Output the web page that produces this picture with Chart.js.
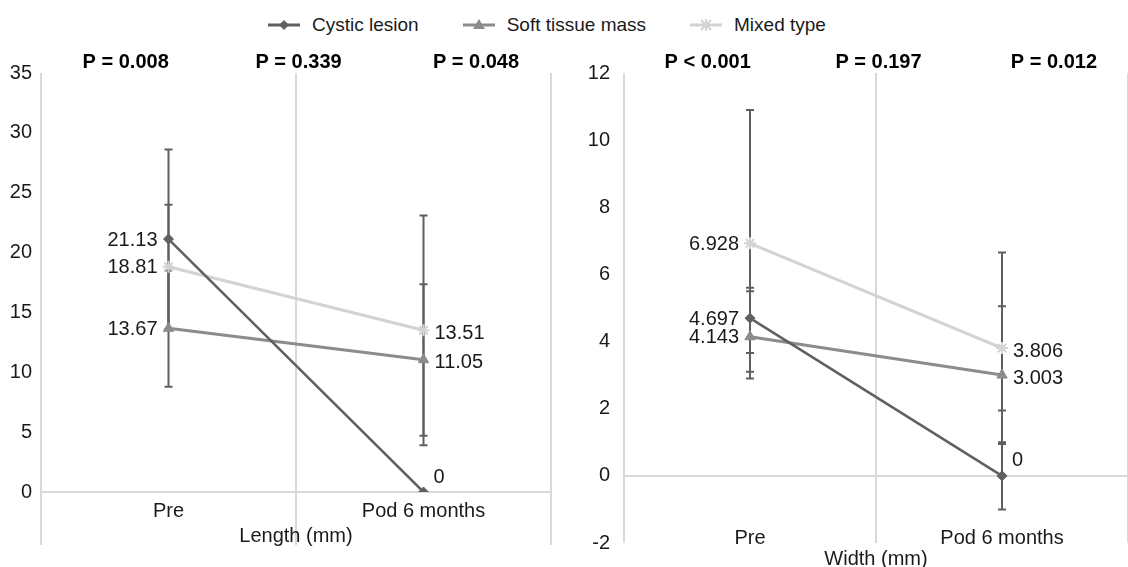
<!DOCTYPE html>
<html>
<head>
<meta charset="utf-8">
<script src="https://cdn.jsdelivr.net/npm/chart.js@4.4.1/dist/chart.umd.min.js"></script>
<style>
  body { margin: 0; width: 1128px; height: 567px; overflow: hidden; background: #fff; position: relative;
         font-family: "Liberation Sans", Arial, sans-serif; }
  #legend { position: absolute; top: 13px; left: 268px; display: flex; gap: 44px; font-size: 19px; color: #1a1a1a; }
  #legend .item { display: flex; align-items: center; gap: 12px; line-height: 24px; }
  #wrapL { position: absolute; left: 0; top: 0; }
  #wrapR { position: absolute; left: 564px; top: 0; }
</style>
</head>
<body>
<div id="legend"></div>
<div id="wrapL"><canvas id="lengthChart" width="564" height="567"></canvas></div>
<div id="wrapR"><canvas id="widthChart" width="572" height="567"></canvas></div>
<script>
// categories & series
const categories = ['Pre', 'Pod 6 months'];
const seriesNames = ['Cystic lesion', 'Soft tissue mass', 'Mixed type'];
const seriesColors = ['#606060', '#8c8c8c', '#d3d3d3'];

// Length (mm)
const lengthCystic = [21.13, 0];
const lengthSoft = [13.67, 11.05];
const lengthMixed = [18.81, 13.51];
const lengthCysticLow = [13.6, null];
const lengthCysticHigh = [28.6, null];
const lengthSoftLow = [8.8, 4.7];
const lengthSoftHigh = [18.5, 17.35];
const lengthMixedLow = [13.6, 3.9];
const lengthMixedHigh = [24.0, 23.1];
const lengthPValues = ['P = 0.008', 'P = 0.339', 'P = 0.048'];

// Width (mm)
const widthCystic = [4.697, 0];
const widthSoft = [4.143, 3.003];
const widthMixed = [6.928, 3.806];
const widthCysticLow = [3.66, -1.0];
const widthCysticHigh = [5.6, 1.0];
const widthSoftLow = [3.1, 1.95];
const widthSoftHigh = [5.5, 5.05];
const widthMixedLow = [2.9, 0.95];
const widthMixedHigh = [10.9, 6.65];
const widthPValues = ['P < 0.001', 'P = 0.197', 'P = 0.012'];

const pointStyles = ['rectRot', 'triangle', 'star'];
const pointRadii = [5, 6, 6];
const lineWidths = [2.5, 3, 3];

Chart.defaults.font.family = '"Liberation Sans", Arial, sans-serif';
Chart.defaults.font.size = 20;
Chart.defaults.color = '#1a1a1a';

// legend (shared by both panels)
const legendEl = document.getElementById('legend');
seriesNames.forEach((name, i) => {
  const item = document.createElement('div');
  item.className = 'item';
  const c = seriesColors[i];
  let marker;
  if (i === 0) marker = `<polygon points="16,6 21,11 16,16 11,11" fill="${c}"/>`;
  else if (i === 1) marker = `<polygon points="16,5 22,15 10,15" fill="${c}"/>`;
  else marker = `<path d="M11,6 L21,16 M21,6 L11,16 M16,5 L16,17" stroke="${c}" stroke-width="2"/>`;
  item.innerHTML = `<svg width="32" height="22"><line x1="0" y1="11" x2="32" y2="11" stroke="${c}" stroke-width="3"/>${marker}</svg><span>${name}</span>`;
  legendEl.appendChild(item);
});

function makeSets(values, lows, highs) {
  return values.map((v, i) => ({
    label: seriesNames[i],
    data: v,
    errLow: lows[i],
    errHigh: highs[i],
    borderColor: seriesColors[i],
    backgroundColor: seriesColors[i],
    borderWidth: lineWidths[i],
    pointStyle: pointStyles[i],
    pointRadius: pointRadii[i],
    pointBorderWidth: i === 2 ? 2 : 1,
    tension: 0
  }));
}

// vertical bars with caps, drawn under the lines
const errorBars = {
  id: 'errorBars',
  beforeDatasetsDraw(chart) {
    const ctx = chart.ctx, y = chart.scales.y;
    ctx.save();
    ctx.strokeStyle = '#5f5f5f';
    ctx.lineWidth = 2;
    chart.data.datasets.forEach((ds, di) => {
      const meta = chart.getDatasetMeta(di);
      ds.data.forEach((v, i) => {
        if (ds.errLow[i] == null) return;
        const x = meta.data[i].x;
        const yh = y.getPixelForValue(ds.errHigh[i]);
        const yl = y.getPixelForValue(ds.errLow[i]);
        ctx.beginPath();
        ctx.moveTo(x, yh); ctx.lineTo(x, yl);
        ctx.moveTo(x - 4, yh); ctx.lineTo(x + 4, yh);
        ctx.moveTo(x - 4, yl); ctx.lineTo(x + 4, yl);
        ctx.stroke();
      });
    });
    ctx.restore();
  }
};

const valueLabels = {
  id: 'valueLabels',
  afterDatasetsDraw(chart) {
    const ctx = chart.ctx;
    ctx.save();
    ctx.font = '20px "Liberation Sans", Arial, sans-serif';
    ctx.fillStyle = '#1a1a1a';
    ctx.textBaseline = 'middle';
    chart.data.datasets.forEach((ds, di) => {
      const meta = chart.getDatasetMeta(di);
      ds.data.forEach((v, i) => {
        const p = meta.data[i];
        if (i === 0) {
          ctx.textAlign = 'right';
          ctx.fillText(String(v), p.x - 11, p.y + 1);
        } else if (v === 0) {
          ctx.textAlign = 'left';
          ctx.fillText(String(v), p.x + 10, p.y - 15);
        } else {
          ctx.textAlign = 'left';
          ctx.fillText(String(v), p.x + 11, p.y + 3);
        }
      });
    });
    ctx.restore();
  }
};

const pValues = {
  id: 'pValues',
  afterDraw(chart) {
    const a = chart.chartArea, ctx = chart.ctx;
    const texts = chart.options.plugins.pValues.texts;
    const fr = [0.166, 0.505, 0.853];
    ctx.save();
    ctx.font = 'bold 20px "Liberation Sans", Arial, sans-serif';
    ctx.fillStyle = '#000';
    ctx.textAlign = 'center';
    ctx.textBaseline = 'middle';
    texts.forEach((t, i) => ctx.fillText(t, a.left + fr[i] * (a.right - a.left), 62));
    ctx.restore();
  }
};

function makeChart(id, sets, cfg) {
  return new Chart(document.getElementById(id), {
    type: 'line',
    data: { labels: categories, datasets: sets },
    plugins: [errorBars, valueLabels, pValues],
    options: {
      responsive: false,
      animation: false,
      layout: { padding: cfg.padding },
      plugins: {
        legend: { display: false },
        tooltip: { enabled: false },
        pValues: { texts: cfg.pTexts }
      },
      scales: {
        x: {
          offset: true,
          grid: { offset: true, color: '#d9d9d9', lineWidth: 2, drawTicks: cfg.tickLen > 0,
                  tickLength: cfg.tickLen, tickColor: '#d9d9d9' },
          border: { display: false },
          ticks: { mirror: true, padding: cfg.labelPad, color: '#1a1a1a' },
          title: { display: true, text: cfg.title, color: '#1a1a1a', padding: cfg.titlePad }
        },
        y: {
          min: cfg.min, max: cfg.max,
          ticks: { stepSize: cfg.step, padding: cfg.yPad, color: '#1a1a1a' },
          grid: { color: c => (c.tick && c.tick.value === 0) ? '#d9d9d9' : 'rgba(0,0,0,0)', lineWidth: 2, drawTicks: false },
          border: { display: false },
          afterFit: s => { s.width = cfg.yWidth; s.paddingTop = 0; s.paddingBottom = 0; }
        }
      }
    }
  });
}

makeChart('lengthChart',
  makeSets([lengthCystic, lengthSoft, lengthMixed],
           [lengthCysticLow, lengthSoftLow, lengthMixedLow],
           [lengthCysticHigh, lengthSoftHigh, lengthMixedHigh]),
  { min: 0, max: 35, step: 5, title: 'Length (mm)', pTexts: lengthPValues,
    padding: { top: 73, right: 13, bottom: 22, left: 0 },
    tickLen: 53, labelPad: -31, titlePad: { top: 41, bottom: -3 }, yPad: 9, yWidth: 41 });

makeChart('widthChart',
  makeSets([widthCystic, widthSoft, widthMixed],
           [widthCysticLow, widthSoftLow, widthMixedLow],
           [widthCysticHigh, widthSoftHigh, widthMixedHigh]),
  { min: -2, max: 12, step: 2, title: 'Width (mm)', pTexts: widthPValues,
    padding: { top: 73, right: 5, bottom: 0, left: 0 },
    tickLen: 0, labelPad: -7, titlePad: { top: 18, bottom: -4 }, yPad: 14, yWidth: 60 });
</script>
</body>
</html>
